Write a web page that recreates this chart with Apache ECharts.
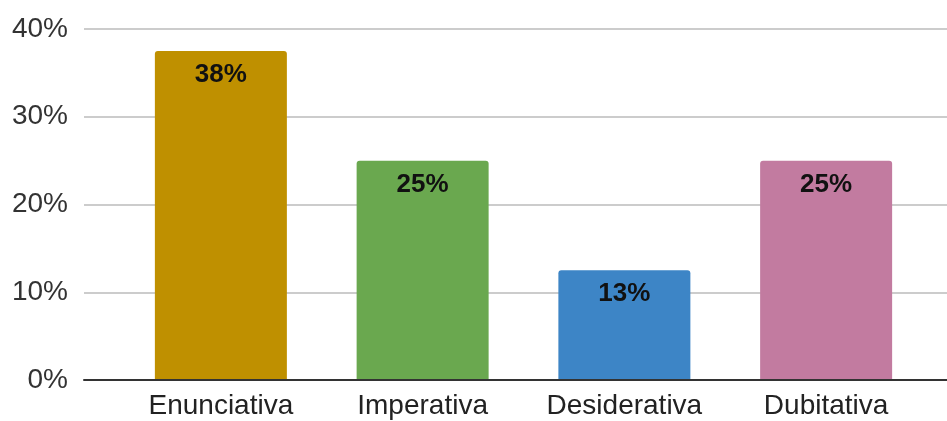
<!DOCTYPE html>
<html><head><meta charset="utf-8">
<script src="https://cdn.jsdelivr.net/npm/echarts@6/dist/echarts.min.js"></script>
<style>html,body{margin:0;padding:0;background:#fff}#c{width:947px;height:421px}</style>
</head><body><div id="c"></div>
<script>
const categories = ['Enunciativa', 'Imperativa', 'Desiderativa', 'Dubitativa'];
const values = [37.5, 25, 12.5, 25];
const labels = ['38%', '25%', '13%', '25%'];
const colors = ['#BF9000', '#6AA84F', '#3D85C6', '#C27BA0'];
const yTicks = [0, 10, 20, 30, 40];

const chart = echarts.init(document.getElementById('c'), null, {renderer: 'canvas'});
const font = '"Liberation Sans", Arial, sans-serif';
chart.setOption({
  animation: false,
  grid: [
    {left: 84, right: 0, top: 29, bottom: 41},
    {left: 120, right: 20, top: 29, bottom: 41}
  ],
  xAxis: [
    {type: 'category', gridIndex: 0, data: [''], axisLine: {show: true, lineStyle: {color: '#333', width: 2}},
     axisTick: {show: false}, axisLabel: {show: false}, z: 5},
    {type: 'category', gridIndex: 1, data: categories, axisLine: {show: false}, axisTick: {show: false},
     axisLabel: {color: '#222', fontSize: 28, fontFamily: font, margin: 12, interval: 0, hideOverlap: false}}
  ],
  yAxis: [
    {type: 'value', gridIndex: 0, min: yTicks[0], max: yTicks[yTicks.length - 1], interval: 10,
     axisLabel: {formatter: '{value}%', color: '#333', fontSize: 28, fontFamily: font, margin: 16},
     splitLine: {lineStyle: {color: '#cccccc', width: 2}}, axisLine: {show: false}, axisTick: {show: false}},
    {type: 'value', gridIndex: 1, min: 0, max: 40, interval: 10, show: false, splitLine: {show: false}}
  ],
  series: [{
    type: 'bar', xAxisIndex: 1, yAxisIndex: 1, barWidth: 132,
    data: values.map((v, i) => ({value: v, itemStyle: {color: colors[i], borderRadius: [3, 3, 0, 0]}})),
    label: {show: true, position: 'insideTop', distance: 11, formatter: p => labels[p.dataIndex],
      color: '#111', fontSize: 26, fontWeight: 'bold', fontFamily: font},
    z: 3
  }]
});
</script></body></html>
